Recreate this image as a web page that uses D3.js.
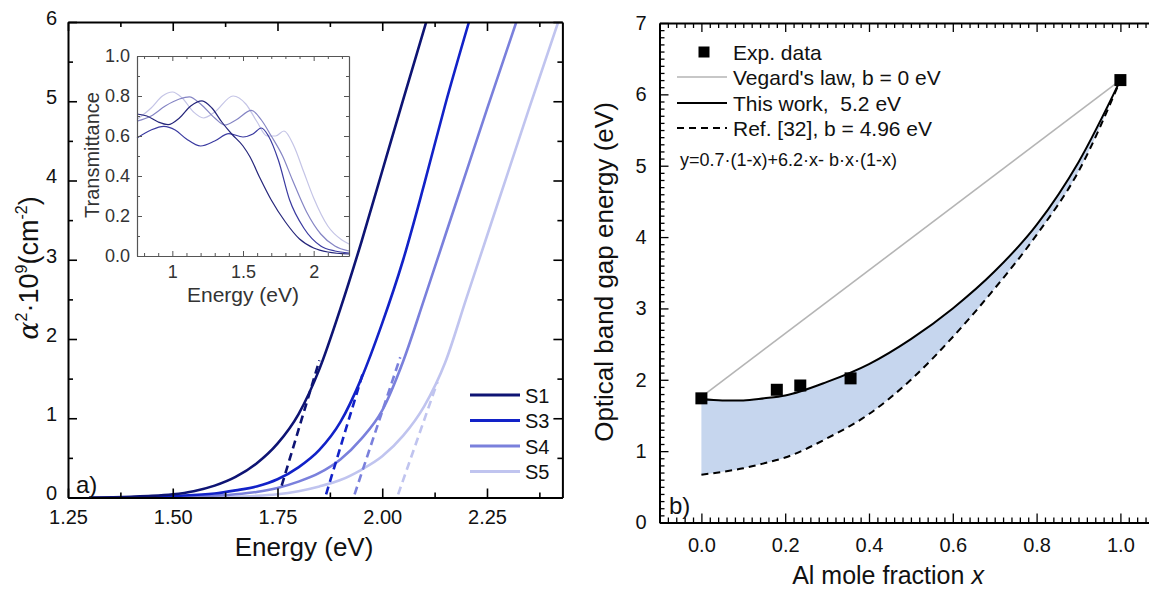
<!DOCTYPE html>
<html><head><meta charset="utf-8">
<script src="https://cdn.jsdelivr.net/npm/d3@7"></script>
<style>body{margin:0;background:#fff} svg{font-family:"Liberation Sans",Arial,sans-serif;display:block}</style>
</head><body><svg id="c" width="1149" height="592"></svg>
<script>
// ---------- Panel a) data : alpha^2 (1e9 cm^-2) vs energy (eV) ----------
const seriesNames = ["S1", "S3", "S4", "S5"];
const s1E = [1.30, 1.40, 1.45, 1.50, 1.55, 1.60, 1.65, 1.70, 1.75, 1.80, 1.85, 1.90, 1.95, 2.00, 2.05, 2.105];
const s1A = [0.00, 0.01, 0.02, 0.04, 0.08, 0.15, 0.26, 0.43, 0.68, 1.05, 1.62, 2.38, 3.22, 4.12, 5.02, 6.00];
const s3E = [1.40, 1.50, 1.60, 1.65, 1.70, 1.75, 1.80, 1.85, 1.90, 1.95, 2.00, 2.05, 2.10, 2.15, 2.207];
const s3A = [0.00, 0.02, 0.05, 0.09, 0.14, 0.23, 0.38, 0.60, 0.95, 1.50, 2.20, 3.00, 3.95, 4.95, 6.00];
const s4E = [1.45, 1.55, 1.65, 1.70, 1.75, 1.80, 1.85, 1.90, 1.95, 2.00, 2.05, 2.10, 2.15, 2.20, 2.25, 2.32];
const s4A = [0.00, 0.01, 0.04, 0.07, 0.12, 0.20, 0.31, 0.48, 0.74, 1.10, 1.72, 2.50, 3.30, 4.10, 4.90, 6.00];
const s5E = [1.55, 1.70, 1.75, 1.80, 1.85, 1.90, 1.95, 2.00, 2.05, 2.10, 2.15, 2.20, 2.25, 2.30, 2.35, 2.42];
const s5A = [0.00, 0.02, 0.04, 0.08, 0.14, 0.22, 0.35, 0.52, 0.78, 1.15, 1.70, 2.50, 3.30, 4.10, 4.90, 6.00];
// linear (Tauc) fits, dashed
const fitE = [[1.760, 1.850], [1.866, 1.955], [1.934, 2.043], [2.038, 2.132]];
const fitA = [[0.15, 1.73], [0.04, 1.59], [0.04, 1.77], [0.04, 1.46]];
const xTicksA = [1.25, 1.50, 1.75, 2.00, 2.25];
const yTicksA = [0, 1, 2, 3, 4, 5, 6];

// ---------- Inset data : transmittance vs energy ----------
const t1E = [0.75, 0.82, 0.90, 0.97, 1.05, 1.13, 1.21, 1.28, 1.35, 1.42, 1.50, 1.55, 1.62, 1.70, 1.80, 1.90, 2.00, 2.10, 2.25];
const t1T = [0.71, 0.70, 0.67, 0.657, 0.69, 0.75, 0.776, 0.74, 0.67, 0.61, 0.55, 0.495, 0.39, 0.28, 0.17, 0.085, 0.04, 0.02, 0.01];
const t3E = [0.75, 0.85, 0.94, 1.02, 1.10, 1.20, 1.30, 1.40, 1.50, 1.57, 1.63, 1.68, 1.75, 1.83, 1.93, 2.05, 2.15, 2.25];
const t3T = [0.59, 0.63, 0.648, 0.63, 0.585, 0.55, 0.575, 0.612, 0.595, 0.61, 0.64, 0.60, 0.48, 0.28, 0.14, 0.05, 0.025, 0.015];
const t4E = [0.75, 0.85, 0.95, 1.05, 1.12, 1.20, 1.30, 1.37, 1.45, 1.56, 1.63, 1.70, 1.78, 1.85, 1.95, 2.05, 2.15, 2.25];
const t4T = [0.674, 0.70, 0.75, 0.785, 0.796, 0.76, 0.69, 0.655, 0.68, 0.728, 0.68, 0.60, 0.50, 0.38, 0.22, 0.11, 0.05, 0.025];
const t5E = [0.75, 0.85, 0.93, 1.00, 1.07, 1.15, 1.22, 1.30, 1.43, 1.52, 1.60, 1.67, 1.73, 1.79, 1.86, 1.93, 2.00, 2.10, 2.20, 2.25];
const t5T = [0.683, 0.74, 0.80, 0.82, 0.79, 0.72, 0.69, 0.72, 0.80, 0.76, 0.67, 0.60, 0.60, 0.625, 0.55, 0.42, 0.29, 0.15, 0.08, 0.06];
const xTicksIn = [1, 1.5, 2];
const yTicksIn = [0, 0.2, 0.4, 0.6, 0.8, 1.0];

// ---------- Panel b) data : band gap vs Al fraction ----------
const expX = [0, 0.18, 0.236, 0.356, 1.0];
const expY = [1.74, 1.86, 1.92, 2.02, 6.2];
const vegX = [0, 1];
const vegY = [1.76, 6.2];
const fitX = [0, 0.05, 0.1, 0.15, 0.2, 0.3, 0.4, 0.5, 0.6, 0.7, 0.8, 0.9, 1.0];
const thisWorkY = [1.73, 1.71, 1.71, 1.74, 1.78, 1.97, 2.22, 2.57, 3.0, 3.52, 4.17, 5.05, 6.2];
const ref32Y = [0.67, 0.71, 0.76, 0.83, 0.91, 1.18, 1.52, 2.0, 2.6, 3.28, 4.03, 4.92, 6.2];
const xTicksB = [0.0, 0.2, 0.4, 0.6, 0.8, 1.0];
const yTicksB = [0, 1, 2, 3, 4, 5, 6, 7];
const legendB = ["Exp. data", "Vegard's law, b = 0 eV", "This work,  5.2 eV", "Ref. [32], b = 4.96 eV"];
const formulaText = "y=0.7\u00b7(1-x)+6.2\u00b7x- b\u00b7x\u00b7(1-x)";

// ---------- styles ----------
const mainColors = ["#0e1474", "#1222c8", "#7a80dc", "#c0c4ef"];
const insetColors = ["#25257a", "#3a3aa0", "#8585c4", "#c4c4e6"];

const svg = d3.select("#c");
const zip = (a, b) => a.map((v, i) => [v, b[i]]);

function frameAxes(g, x, y, o) {
  const [x0, x1] = x.range(), [y0, y1] = y.range();
  const sides = [
    {ax: d3.axisBottom(x), t: `translate(0,${y0})`, vals: o.xMaj, min: o.xMin, lab: true, fmt: o.xFmt, pad: o.xPad},
    {ax: d3.axisTop(x), t: `translate(0,${y1})`, vals: o.xMaj, min: o.xMin, lab: false},
    {ax: d3.axisLeft(y), t: `translate(${x0},0)`, vals: o.yMaj, min: o.yMin, lab: true, fmt: o.yFmt, pad: o.yPad, yl: true},
    {ax: d3.axisRight(y), t: `translate(${x1},0)`, vals: o.yMaj, min: o.yMin, lab: false}
  ];
  sides.forEach(s => {
    const ga = g.append("g").attr("transform", s.t)
      .call(s.ax.tickValues(s.vals).tickSize(-o.maj).tickSizeOuter(0)
        .tickPadding(s.lab ? s.pad : 0).tickFormat(s.lab ? s.fmt : () => ""));
    ga.attr("font-family", null).attr("font-size", o.fs);
    ga.selectAll("text").attr("fill", o.textColor);
    if (s.yl && o.yDy !== undefined) ga.selectAll("text").attr("dy", o.yDy);
    ga.selectAll("line").attr("stroke", o.color).attr("stroke-width", o.tw);
    ga.select(".domain").attr("stroke", o.color).attr("stroke-width", o.lw);
    const gm = g.append("g").attr("transform", s.t)
      .call(s.ax.tickValues(s.min).tickSize(-o.minr).tickSizeOuter(0).tickFormat(() => ""));
    gm.select(".domain").remove();
    gm.selectAll("line").attr("stroke", o.color).attr("stroke-width", o.tw);
  });
}

// ================= Panel a =================
const xA = d3.scaleLinear().domain([1.25, 2.43]).range([68, 562.4]);
const yA = d3.scaleLinear().domain([0, 6]).range([497.5, 22]);
const gA = svg.append("g");
svg.append("defs").append("clipPath").attr("id", "clipA").append("rect")
  .attr("x", 68).attr("y", 22).attr("width", 494.4).attr("height", 475.5);

const lineA = d3.line().x(d => xA(d[0])).y(d => yA(d[1])).curve(d3.curveMonotoneX);
const curvesA = [zip(s1E, s1A), zip(s3E, s3A), zip(s4E, s4A), zip(s5E, s5A)];
const gCurves = gA.append("g").attr("clip-path", "url(#clipA)");
[3, 2, 1, 0].forEach(i => {
  gCurves.append("path").datum(curvesA[i]).attr("d", lineA)
    .attr("fill", "none").attr("stroke", mainColors[i]).attr("stroke-width", 2.6);
});
[3, 2, 1, 0].forEach(i => {
  gCurves.append("path").datum(zip(fitE[i], fitA[i])).attr("d", d3.line().x(d => xA(d[0])).y(d => yA(d[1])))
    .attr("fill", "none").attr("stroke", mainColors[i]).attr("stroke-width", 2.6)
    .attr("stroke-dasharray", "8,5");
});

frameAxes(gA, xA, yA, {
  xMaj: xTicksA, xMin: [1.375, 1.625, 1.875, 2.125, 2.375], xFmt: d3.format(".2f"), xPad: 12,
  yMaj: yTicksA, yMin: [0.5, 1.5, 2.5, 3.5, 4.5, 5.5], yFmt: d3.format("d"), yPad: 11, yDy: "0.12em",
  maj: 9, minr: 5, fs: 20, color: "#000", textColor: "#111", tw: 1.6, lw: 2
});

// legend a
seriesNames.forEach((n, i) => {
  const yy = 395 + i * 25.5;
  gA.append("line").attr("x1", 470).attr("x2", 520).attr("y1", yy).attr("y2", yy)
    .attr("stroke", mainColors[i]).attr("stroke-width", 2.8);
  gA.append("text").attr("x", 525).attr("y", yy + 7.5).attr("font-size", 20).attr("fill", "#111").text(n);
});
gA.append("text").attr("x", 76).attr("y", 493).attr("font-size", 24).attr("fill", "#111").text("a)");

// axis titles a
gA.append("text").attr("x", 304).attr("y", 556).attr("text-anchor", "middle").attr("font-size", 26)
  .attr("fill", "#111").text("Energy (eV)");
const yt = gA.append("text").attr("transform", "translate(38,268) rotate(-90)").attr("text-anchor", "middle")
  .attr("font-size", 27).attr("fill", "#111");
yt.append("tspan").attr("font-family", "'DejaVu Serif',serif").attr("font-style", "italic").text("\u03b1");
yt.append("tspan").attr("font-size", 16).attr("dy", -11).text("2");
yt.append("tspan").attr("dy", 11).text("\u00b710");
yt.append("tspan").attr("font-size", 16).attr("dy", -11).text("9");
yt.append("tspan").attr("dy", 11).text("(cm");
yt.append("tspan").attr("font-size", 16).attr("dy", -11).text("-2");
yt.append("tspan").attr("dy", 11).text(")");

// ================= Inset =================
const xI = d3.scaleLinear().domain([0.75, 2.25]).range([137, 349]);
const yI = d3.scaleLinear().domain([0, 1]).range([256, 56]);
const gI = svg.append("g");
gI.append("rect").attr("x", 137).attr("y", 56).attr("width", 212).attr("height", 200).attr("fill", "#fff");
const lineI = d3.line().x(d => xI(d[0])).y(d => yI(d[1])).curve(d3.curveMonotoneX);
const curvesI = [zip(t1E, t1T), zip(t3E, t3T), zip(t4E, t4T), zip(t5E, t5T)];
[3, 2, 1, 0].forEach(i => {
  gI.append("path").datum(curvesI[i]).attr("d", lineI).attr("fill", "none")
    .attr("stroke", insetColors[i]).attr("stroke-width", 1.2);
});
frameAxes(gI, xI, yI, {
  xMaj: xTicksIn, xMin: d3.range(8, 23).map(v => v / 10).filter(v => ![1, 1.5, 2].includes(v)), xFmt: d3.format(""), xPad: 9,
  yMaj: yTicksIn, yMin: [0.1, 0.3, 0.5, 0.7, 0.9], yFmt: d3.format(".1f"), yPad: 7,
  maj: 5, minr: 3, fs: 18, color: "#555", textColor: "#333", tw: 1, lw: 1.2
});
gI.append("text").attr("x", 243).attr("y", 302).attr("text-anchor", "middle").attr("font-size", 21)
  .attr("fill", "#333").text("Energy (eV)");
gI.append("text").attr("transform", "translate(99,155) rotate(-90)").attr("text-anchor", "middle")
  .attr("font-size", 20).attr("fill", "#333").text("Transmittance");

// ================= Panel b =================
const xB = d3.scaleLinear().domain([-0.1, 1.1]).range([659.5, 1162.3]);
const yB = d3.scaleLinear().domain([0, 7]).range([522.5, 23]);
const gB = svg.append("g");
const areaB = d3.area().x(d => xB(d[0])).y0(d => yB(d[2])).y1(d => yB(d[1])).curve(d3.curveMonotoneX);
gB.append("path").datum(fitX.map((v, i) => [v, thisWorkY[i], ref32Y[i]])).attr("d", areaB).attr("fill", "#c6d6ee");
const lineB = d3.line().x(d => xB(d[0])).y(d => yB(d[1])).curve(d3.curveMonotoneX);
gB.append("path").datum(zip(vegX, vegY)).attr("d", lineB).attr("fill", "none").attr("stroke", "#b5b5b5").attr("stroke-width", 1.6);
gB.append("path").datum(zip(fitX, ref32Y)).attr("d", lineB).attr("fill", "none").attr("stroke", "#000")
  .attr("stroke-width", 2).attr("stroke-dasharray", "7,5");
gB.append("path").datum(zip(fitX, thisWorkY)).attr("d", lineB).attr("fill", "none").attr("stroke", "#000").attr("stroke-width", 2);
gB.selectAll("rect.pt").data(zip(expX, expY)).join("rect").attr("class", "pt")
  .attr("x", d => xB(d[0]) - 6).attr("y", d => yB(d[1]) - 6).attr("width", 12).attr("height", 12).attr("fill", "#000");

frameAxes(gB, xB, yB, {
  xMaj: xTicksB, xMin: d3.range(-4, 55).map(v => +(v * 0.02).toFixed(2)).filter(v => !xTicksB.includes(v)), xFmt: d3.format(".1f"), xPad: 15,
  yMaj: yTicksB, yMin: d3.range(0, 71).map(v => +(v * 0.1).toFixed(1)).filter(v => !yTicksB.includes(v)), yFmt: d3.format("d"), yPad: 13,
  maj: 9, minr: 5, fs: 20, color: "#000", textColor: "#111", tw: 1.3, lw: 2
});

// legend b
const lgY = [52, 77, 103, 128];
gB.append("rect").attr("x", 698.5).attr("y", lgY[0] - 5.5).attr("width", 11).attr("height", 11).attr("fill", "#000");
gB.append("line").attr("x1", 677).attr("x2", 727).attr("y1", lgY[1]).attr("y2", lgY[1]).attr("stroke", "#b5b5b5").attr("stroke-width", 1.6);
gB.append("line").attr("x1", 677).attr("x2", 727).attr("y1", lgY[2]).attr("y2", lgY[2]).attr("stroke", "#000").attr("stroke-width", 2);
gB.append("line").attr("x1", 677).attr("x2", 727).attr("y1", lgY[3]).attr("y2", lgY[3]).attr("stroke", "#000").attr("stroke-width", 2).attr("stroke-dasharray", "7,5");
legendB.forEach((t, i) => {
  gB.append("text").attr("x", 733).attr("y", lgY[i] + 7.5).attr("font-size", 21).attr("fill", "#111")
    .style("white-space", "pre").text(t);
});
gB.append("text").attr("x", 680).attr("y", 166).attr("font-size", 18).attr("fill", "#111").text(formulaText);
gB.append("text").attr("x", 669).attr("y", 514).attr("font-size", 24).attr("fill", "#111").text("b)");

gB.append("text").attr("transform", "translate(613,272) rotate(-90)").attr("text-anchor", "middle")
  .attr("font-size", 26).attr("fill", "#111").text("Optical band gap energy (eV)");
const xt = gB.append("text").attr("x", 888).attr("y", 584).attr("text-anchor", "middle").attr("font-size", 25).attr("fill", "#111");
xt.append("tspan").text("Al mole fraction ");
xt.append("tspan").attr("font-style", "italic").text("x");
</script></body></html>
